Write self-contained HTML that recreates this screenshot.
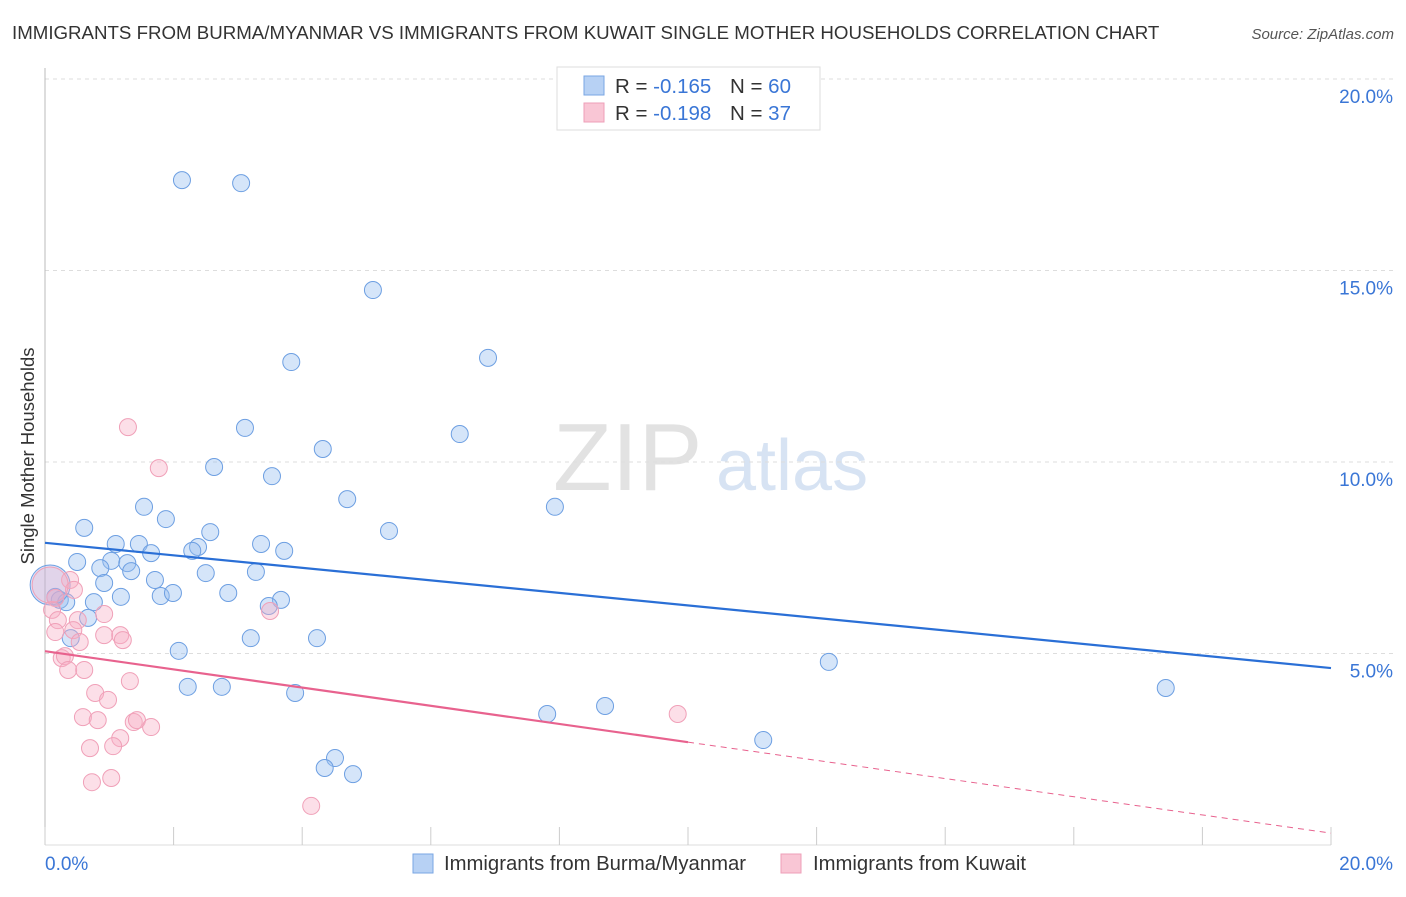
<!DOCTYPE html>
<html><head><meta charset="utf-8"><style>
body{margin:0;background:#fff;font-family:"Liberation Sans",sans-serif}
svg text{font-family:"Liberation Sans",sans-serif}
</style></head><body>
<svg id="c" width="1406" height="892" xmlns="http://www.w3.org/2000/svg">
<text x="12" y="39" font-size="18.7" fill="#333">IMMIGRANTS FROM BURMA/MYANMAR VS IMMIGRANTS FROM KUWAIT SINGLE MOTHER HOUSEHOLDS CORRELATION CHART</text>
<text x="1394" y="39" font-size="15" fill="#555" font-style="italic" text-anchor="end">Source: ZipAtlas.com</text>
<g opacity="0.55">
<text x="553" y="490" font-size="96" font-family="Liberation Serif,serif" fill="#ccc">ZIP</text>
<text x="716" y="490" font-size="72" fill="#b8cdea">atlas</text>
</g>
<g id="grid"></g>
<line x1="45" y1="68" x2="45" y2="845" stroke="#bbb"/>
<line x1="45" y1="845" x2="1331" y2="845" stroke="#ddd"/>
<g id="xt"></g>
<g id="yl"></g>
<text x="45" y="870" font-size="19" fill="#3a76d6">0.0%</text>
<text x="1393" y="870" font-size="19" fill="#3a76d6" text-anchor="end">20.0%</text>
<text transform="translate(34,456) rotate(-90)" font-size="18.5" fill="#333" text-anchor="middle">Single Mother Households</text>
<g id="pts"></g>
<g id="lines"></g>
<g>
<rect x="557" y="67" width="263" height="63" fill="#fff" stroke="#ddd"/>
<rect x="584" y="76" width="20" height="19" fill="#b7d1f4" stroke="#7aa6e3"/>
<rect x="584" y="103" width="20" height="19" fill="#f9c6d5" stroke="#ee9fb8"/>
<text x="615" y="93" font-size="20.5" fill="#333">R = <tspan fill="#3a76d6">-0.165</tspan><tspan x="730">N = </tspan><tspan fill="#3a76d6">60</tspan></text>
<text x="615" y="120" font-size="20.5" fill="#333">R = <tspan fill="#3a76d6">-0.198</tspan><tspan x="730">N = </tspan><tspan fill="#3a76d6"> 37</tspan></text>
</g>
<g>
<rect x="413" y="854" width="20" height="19" fill="#b7d1f4" stroke="#7aa6e3"/>
<text x="444" y="870" font-size="20.3" fill="#333">Immigrants from Burma/Myanmar</text>
<rect x="781" y="854" width="20" height="19" fill="#f9c6d5" stroke="#ee9fb8"/>
<text x="813" y="870" font-size="20.3" fill="#333">Immigrants from Kuwait</text>
</g>
</svg>
<script>
const yTicks=[5,10,15,20];
const yTickLabels=["5.0%","10.0%","15.0%","20.0%"];
const xTicks=[0,2,4,6,8,10,12,14,16,18,20];
const burmaX=[2.13,3.05,5.10,3.83,6.89,6.45,3.11,4.32,2.63,3.53,4.70,7.93,1.54,1.88,0.61,5.35,2.57,1.10,1.46,3.36,2.38,2.29,3.72,1.65,0.50,1.03,1.28,0.86,1.34,2.50,3.28,1.71,0.92,0.16,0.23,0.33,0.76,1.18,1.80,1.99,2.85,3.67,3.48,0.67,0.40,3.20,4.23,2.08,2.22,2.75,3.89,12.19,17.43,7.81,8.71,11.17,4.51,4.35,4.79,0.08];
const burmaY=[17.36,17.28,14.49,12.61,12.72,10.73,10.89,10.34,9.87,9.63,9.03,8.83,8.83,8.51,8.28,8.20,8.17,7.86,7.86,7.86,7.78,7.68,7.68,7.62,7.39,7.42,7.36,7.23,7.15,7.10,7.13,6.92,6.84,6.48,6.40,6.34,6.34,6.48,6.50,6.58,6.58,6.40,6.24,5.93,5.40,5.40,5.40,5.07,4.13,4.13,3.97,4.78,4.10,3.42,3.63,2.74,2.27,2.01,1.85,6.79];
const kuwaitX=[1.29,1.77,0.39,0.45,0.16,0.11,0.51,0.20,0.16,0.92,0.44,0.54,0.92,1.17,1.21,3.50,0.26,0.31,0.36,0.61,1.32,0.78,0.98,0.59,0.82,1.38,1.43,1.65,1.17,0.70,1.06,0.73,1.03,4.14,9.84,0.08];
const kuwaitY=[10.91,9.84,6.92,6.66,6.45,6.14,5.87,5.87,5.56,6.03,5.61,5.30,5.48,5.48,5.35,6.11,4.88,4.93,4.57,4.57,4.28,3.97,3.79,3.34,3.26,3.21,3.26,3.08,2.79,2.53,2.58,1.64,1.75,1.02,3.42,6.79];
const burmaTrend=[7.89,4.62];
const kuwaitTrend=[5.06,0.31];
const kuwaitSolidEnd=10;
const NS="http://www.w3.org/2000/svg";
const X=v=>45+v*64.3, Y=v=>845-v*38.3;
function mk(t,a,p){const e=document.createElementNS(NS,t);for(const k in a)e.setAttribute(k,a[k]);p.appendChild(e);return e;}
const grid=document.getElementById('grid'),yl=document.getElementById('yl'),xt=document.getElementById('xt');
yTicks.forEach((t,i)=>{
 const l=mk('line',{x1:45,x2:1394,y1:Y(t),y2:Y(t),stroke:'#ddd','stroke-dasharray':'4,4'},grid);
 
 
 const tx=mk('text',{x:1393,y:Y(t)+24,'font-size':19,fill:'#3a76d6','text-anchor':'end'},yl);
 tx.textContent=yTickLabels[i];
 
 
});
xTicks.forEach(t=>{
 const l=mk('line',{x1:X(t),x2:X(t),y1:827,y2:845,stroke:'#ccc'},xt);
 
 
});
const pts=document.getElementById('pts');
burmaX.forEach((x,i)=>{
 const big=i===burmaX.length-1;
 const c=mk('circle',{cx:X(x),cy:Y(burmaY[i]),r:big?20:8.5,fill:big?'rgba(150,170,230,0.35)':'rgba(150,190,240,0.4)',stroke:'#6d9fe2','stroke-width':1},pts);
 
 
});
kuwaitX.forEach((x,i)=>{
 const big=i===kuwaitX.length-1;
 const c=mk('circle',{cx:X(x),cy:Y(kuwaitY[i]),r:big?18:8.5,fill:big?'rgba(248,175,198,0.25)':'rgba(248,175,198,0.4)',stroke:'#f0a0b8','stroke-width':1},pts);
 
 
});
const lines=document.getElementById('lines');
const bl=mk('line',{x1:X(0),y1:Y(burmaTrend[0]),x2:X(20),y2:Y(burmaTrend[1]),stroke:'#2a6fd6','stroke-width':2.2},lines);


const kAt=v=>kuwaitTrend[0]+(kuwaitTrend[1]-kuwaitTrend[0])*v/20;
const kl=mk('line',{x1:X(0),y1:Y(kAt(0)),x2:X(kuwaitSolidEnd),y2:Y(kAt(kuwaitSolidEnd)),stroke:'#e8628e','stroke-width':2.2},lines);


const kd=mk('line',{x1:X(kuwaitSolidEnd),y1:Y(kAt(kuwaitSolidEnd)),x2:X(20),y2:Y(kAt(20)),stroke:'#e8628e','stroke-width':1,'stroke-dasharray':'6,5'},lines);


</script>
</body></html>
